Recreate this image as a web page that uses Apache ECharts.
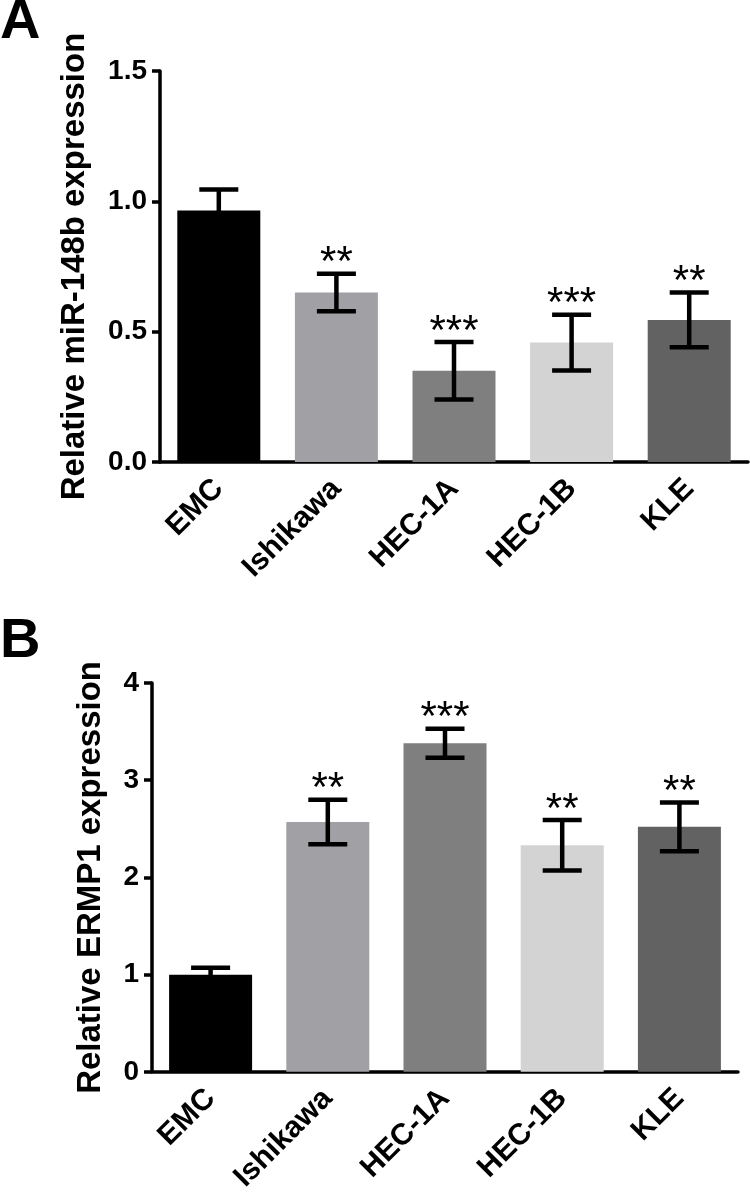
<!DOCTYPE html>
<html>
<head>
<meta charset="utf-8">
<script src="https://cdn.jsdelivr.net/npm/echarts@6/dist/echarts.min.js"></script>
<style>
html,body{margin:0;padding:0;background:#fff;}
#chart{width:750px;height:1195px;}
</style>
</head>
<body>
<div id="chart"></div>
<script>
// ---- data ----
const categories = ['EMC', 'Ishikawa', 'HEC-1A', 'HEC-1B', 'KLE'];
const barColors = ['#000000', '#a1a1a5', '#7f7f7f', '#d3d3d3', '#626262'];

const miR148bMean = [0.965, 0.650, 0.350, 0.458, 0.545];
const miR148bSD   = [0.080, 0.072, 0.110, 0.107, 0.105];
const miR148bSig  = ['', '**', '***', '***', '**'];
const miR148bTicks = [0, 0.5, 1.0, 1.5];

const ermp1Mean = [1.00, 2.57, 3.38, 2.33, 2.52];
const ermp1SD   = [0.07, 0.23, 0.15, 0.26, 0.25];
const ermp1Sig  = ['', '**', '***', '**', '**'];
const ermp1Ticks = [0, 1, 2, 3, 4];

// ---- styles ----
const FONT = '"Liberation Sans", Arial, sans-serif';
const AX_W = 3.5;

const errSig = {};

function errData(mean, sd) {
  return mean.map((m, i) => [i, m, sd[i]]);
}

function errRender(params, api) {
  const i = api.value(0);
  const m = api.value(1);
  const s = api.value(2);
  const sig = errSig[params.seriesIndex][params.dataIndex];
  const top = api.coord([i, m + s]);
  const bot = api.coord([i, m - s]);
  const half = 19.5;
  const st = { stroke: '#000', lineWidth: 4.5 };
  const children = [
    { type: 'line', shape: { x1: top[0], y1: top[1], x2: bot[0], y2: bot[1] }, style: st },
    { type: 'line', shape: { x1: top[0] - half, y1: top[1], x2: top[0] + half, y2: top[1] }, style: st },
    { type: 'line', shape: { x1: bot[0] - half, y1: bot[1], x2: bot[0] + half, y2: bot[1] }, style: st }
  ];
  if (sig) {
    children.push({
      type: 'text',
      style: {
        text: sig, x: top[0], y: top[1] - 10,
        align: 'center', verticalAlign: 'middle',
        font: 'normal 42px "Liberation Sans", Arial, sans-serif', fill: '#000'
      }
    });
  }
  return { type: 'group', children };
}

function barData(mean) {
  return mean.map((v, i) => ({ value: v, itemStyle: { color: barColors[i] } }));
}

function xAxisCfg(gridIndex) {
  return {
    type: 'category', gridIndex, data: categories,
    axisLine: { lineStyle: { color: '#000', width: AX_W } },
    axisTick: { alignWithLabel: true, length: 10, lineStyle: { color: '#000', width: AX_W } },
    axisLabel: { rotate: 45, margin: 22, color: '#000', fontFamily: FONT, fontWeight: 'bold', fontSize: 30 },
    splitLine: { show: false }
  };
}

function yAxisCfg(gridIndex, ticks, name, gap, digits) {
  return {
    type: 'value', gridIndex,
    min: ticks[0], max: ticks[ticks.length - 1], interval: ticks[1] - ticks[0],
    name, nameLocation: 'middle', nameGap: gap,
    nameTextStyle: { color: '#000', fontFamily: FONT, fontWeight: 'bold', fontSize: 33 },
    axisLine: { show: true, lineStyle: { color: '#000', width: AX_W } },
    axisTick: { show: true, length: 8, lineStyle: { color: '#000', width: AX_W } },
    axisLabel: { margin: 13, color: '#000', fontFamily: FONT, fontWeight: 'bold', fontSize: 28,
      formatter: v => v.toFixed(digits) },
    splitLine: { show: false }
  };
}

const chart = echarts.init(document.getElementById('chart'), null, { renderer: 'canvas' });
errSig[2] = miR148bSig;
errSig[3] = ermp1Sig;

chart.setOption({
  animation: false,
  backgroundColor: '#fff',
  graphic: [
    { type: 'text', left: 0, top: -5, style: { text: 'A', font: 'bold 56px ' + FONT, fill: '#000' } },
    { type: 'text', left: 0, top: 614, style: { text: 'B', font: 'bold 56px ' + FONT, fill: '#000' } }
  ],
  grid: [
    { left: 160, top: 71, width: 588, height: 391, containLabel: false },
    { left: 152, top: 683, width: 586, height: 390, containLabel: false }
  ],
  xAxis: [xAxisCfg(0), xAxisCfg(1)],
  yAxis: [
    yAxisCfg(0, miR148bTicks, 'Relative miR-148b expression', 69, 1),
    yAxisCfg(1, ermp1Ticks, 'Relative ERMP1 expression', 45, 0)
  ],
  series: [
    { type: 'bar', xAxisIndex: 0, yAxisIndex: 0, data: barData(miR148bMean), barWidth: 83 },
    { type: 'bar', xAxisIndex: 1, yAxisIndex: 1, data: barData(ermp1Mean), barWidth: 83 },
    { type: 'custom', xAxisIndex: 0, yAxisIndex: 0, data: errData(miR148bMean, miR148bSD),
      renderItem: errRender, z: 5, encode: { x: 0, y: 1 } },
    { type: 'custom', xAxisIndex: 1, yAxisIndex: 1, data: errData(ermp1Mean, ermp1SD),
      renderItem: errRender, z: 5, encode: { x: 0, y: 1 } }
  ]
});
</script>
</body>
</html>
